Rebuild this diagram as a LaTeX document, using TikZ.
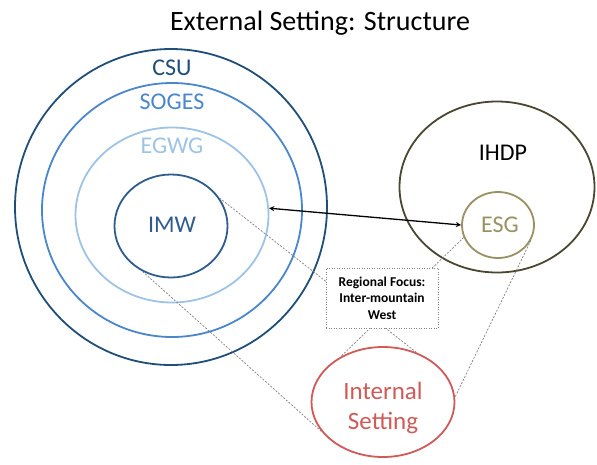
\documentclass[tikz,border=0pt]{standalone}
\usepackage{fontspec}
\setmainfont{Carlito}
\usetikzlibrary{shapes.geometric}

\definecolor{csublue}{HTML}{1F4E79}
\definecolor{sogesblue}{HTML}{4A86CC}
\definecolor{egwgblue}{HTML}{9DC3E6}
\definecolor{imwblue}{HTML}{2E5C8E}
\definecolor{ihdpolive}{HTML}{4B4630}
\definecolor{esgolive}{HTML}{9A9162}
\definecolor{intred}{HTML}{CF5A57}

\begin{document}
\begin{tikzpicture}[x=1pt,y=-1pt]

\tikzset{ring/.style={ellipse,inner sep=0pt,line width=1.8pt,draw}}
\tikzset{lab/.style={inner sep=0pt,font=\fontsize{24}{28}\selectfont}}
\tikzset{proj/.style={gray,line width=0.7pt,dash pattern=on 2pt off 1.5pt}}

\useasboundingbox (0,0) rectangle (597,464);

\draw (320,23) node[inner sep=0pt,font=\fontsize{28}{32}\selectfont](title) {External Setting: Structure};

% nested circles on the left
\draw (171,207) node[ring,csublue,minimum width=312pt,minimum height=316pt](csu) {};
\draw (172,210) node[ring,sogesblue,minimum width=260pt,minimum height=254pt](soges) {};
\draw (172,215) node[ring,egwgblue,minimum width=193pt,minimum height=175pt](egwg) {};
\draw (171,226) node[ring,imwblue,minimum width=113pt,minimum height=103pt](imw) {};

\draw (172,68) node[lab,csublue](lcsu) {CSU};
\draw (172,102) node[lab,sogesblue](lsoges) {SOGES};
\draw (172,146) node[lab,egwgblue](legwg) {EGWG};
\draw (172,225) node[lab,imwblue](limw) {IMW};

% right side
\draw (497,187) node[ring,ihdpolive,minimum width=195pt,minimum height=171pt](ihdp) {};
\draw (503,153) node[lab,black](lihdp) {IHDP};
\draw (498,225) node[ring,esgolive,minimum width=72pt,minimum height=66pt](esg) {};
\draw (500,225) node[lab,esgolive](lesg) {ESG};

\draw (383,402) node[ring,intred,minimum width=143pt,minimum height=110pt](int) {};
\draw (383,408) node[lab,intred,align=center,font=\fontsize{25}{30}\selectfont](lint) {Internal\\Setting};

\draw[<->,>=stealth,line width=1.3pt] (egwg.4) -- (esg.west);

% projection lines
\draw[proj] (imw.30) -- (int.56);
\draw[proj] (imw.238) -- (int.206);
\draw[proj] (esg.200) -- (int.133);
\draw[proj] (esg.-25) -- (int.4);

\draw (382,298) node[draw,gray,fill=white,line width=0.8pt,dash pattern=on 1pt off 1.5pt,minimum width=112pt,minimum height=60pt,inner sep=0pt,text=black,align=center,font=\bfseries\fontsize{13.5}{16.5}\selectfont](foc) {Regional Focus:\\Inter-mountain\\West};

\end{tikzpicture}
\end{document}
